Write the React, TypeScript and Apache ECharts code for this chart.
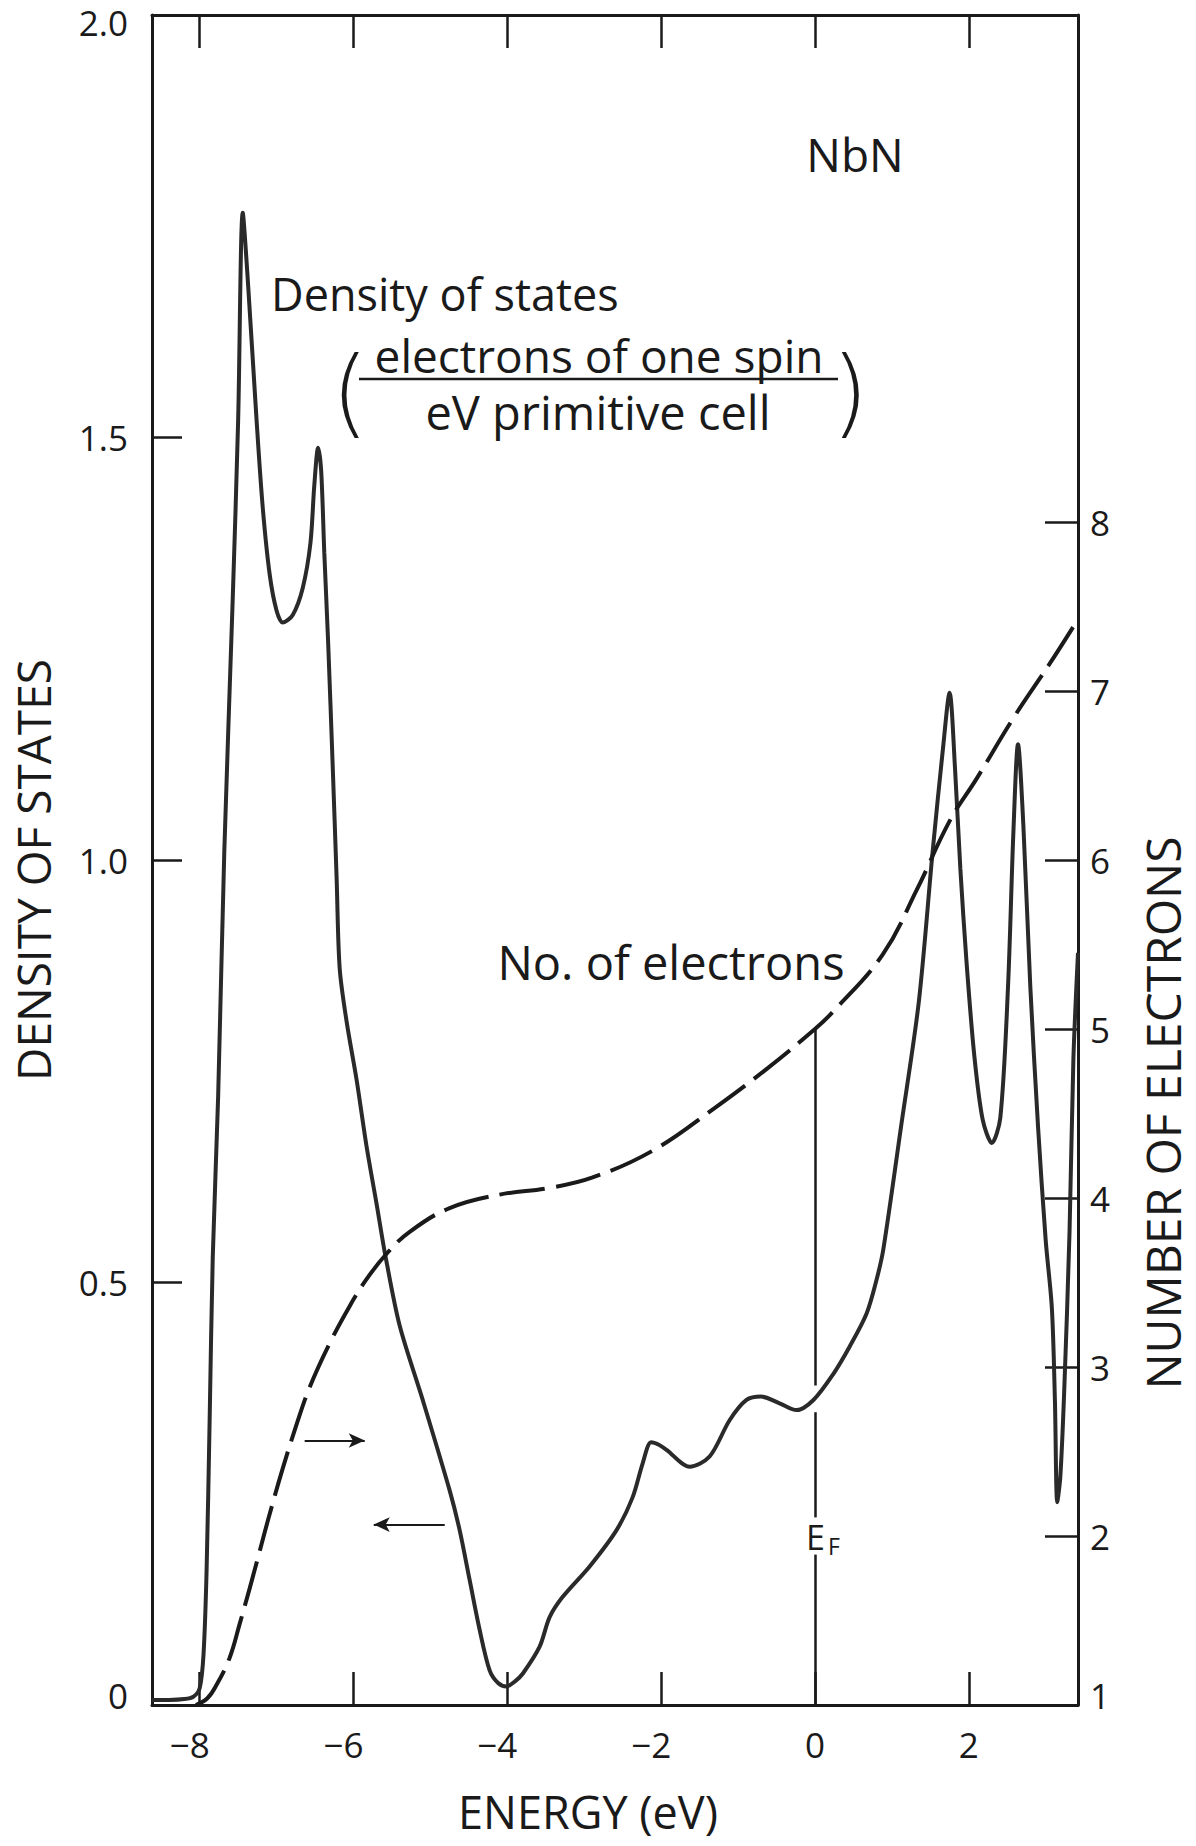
import React, { useEffect, useRef } from "react";
import * as echarts from "echarts";

// Energy (eV) and density of states (electrons of one spin / eV primitive cell)
const dosEnergy = [
  -8.62, -8.4, -8.2, -8.08, -8.0, -7.95, -7.91, -7.87, -7.83, -7.76, -7.68, -7.57, -7.5, -7.44,
  -7.37, -7.26, -7.18, -7.09, -7.0, -6.92, -6.79, -6.66, -6.56, -6.51, -6.46, -6.42, -6.38, -6.33,
  -6.27, -6.22, -6.18, -6.09, -5.96, -5.83, -5.7, -5.59, -5.4, -5.1, -4.75, -4.62, -4.49, -4.36,
  -4.23, -4.12, -4.01, -3.9, -3.8, -3.58, -3.45, -3.28, -2.93, -2.58, -2.37, -2.24, -2.13, -2.03,
  -1.93, -1.63, -1.37, -1.11, -0.89, -0.7, -0.46, -0.24, -0.02, 0.24, 0.45, 0.67, 0.8, 0.89, 1.12,
  1.35, 1.53, 1.67, 1.75, 1.82, 1.89, 1.97, 2.07, 2.18, 2.3, 2.41, 2.51, 2.58, 2.64, 2.71, 2.8, 2.9,
  3.0, 3.08, 3.12, 3.15, 3.19, 3.24, 3.31, 3.36, 3.42,
];
const dosValues = [
  0.006, 0.006, 0.007, 0.01, 0.02, 0.06, 0.16, 0.34, 0.53, 0.72, 1.01, 1.31, 1.52, 1.766,
  1.68, 1.52, 1.417, 1.338, 1.295, 1.281, 1.29, 1.322, 1.375, 1.443, 1.488, 1.46, 1.364, 1.258,
  1.11, 0.98, 0.872, 0.809, 0.74, 0.661, 0.593, 0.534, 0.449, 0.361, 0.254, 0.207, 0.148, 0.089,
  0.041, 0.026, 0.022, 0.028, 0.037, 0.069, 0.104, 0.128, 0.164, 0.207, 0.246, 0.286, 0.311, 0.308,
  0.302, 0.282, 0.294, 0.337, 0.361, 0.365, 0.357, 0.349, 0.361, 0.392, 0.424, 0.463, 0.503, 0.54, 0.685,
  0.832, 1.01, 1.137, 1.198, 1.11, 0.99, 0.88, 0.77, 0.693, 0.665, 0.695, 0.85, 1.033, 1.137, 1.04, 0.85, 0.685,
  0.55, 0.47, 0.36, 0.24, 0.27, 0.37, 0.56, 0.764, 0.89,
];

// Energy (eV) and number of electrons (right axis)
const electronEnergy = [
  -8.05, -7.9, -7.78, -7.61, -7.48, -7.35, -7.22, -7.09, -6.92, -6.74, -6.57, -6.31, -6.05, -5.83,
  -5.57, -5.27, -4.75, -4.1, -3.45, -2.9, -2.11, -1.31, -0.61, 0.0, 0.23, 0.88, 1.32, 1.75, 2.1,
  2.58, 3.05, 3.4,
];
const electronValues = [
  1.0, 1.04, 1.12, 1.28, 1.48, 1.69, 1.91, 2.13, 2.4, 2.66, 2.88, 3.14, 3.36, 3.52,
  3.67, 3.8, 3.94, 4.02, 4.06, 4.12, 4.28, 4.53, 4.77, 5.0, 5.1, 5.44, 5.82, 6.23, 6.48,
  6.84, 7.16, 7.41,
];

const energyTicks = [-8, -6, -4, -2, 0, 2];
const electronTicks = [1, 2, 3, 4, 5, 6, 7, 8];

// Fermi level and its value on the electron curve (in density-axis units)
const fermiEnergy = 0;
const fermiDosTop = 0.8;

const FONT = "'Open Sans', 'DejaVu Sans', sans-serif";
const INK = "#1a1a1a";

export default function App() {
  const ref = useRef<HTMLDivElement>(null);

  useEffect(() => {
    document.body.style.margin = "0";
    document.body.style.overflow = "hidden";
    if (!ref.current) return;
    const chart = echarts.init(ref.current, undefined, { renderer: "svg" });

    const dosData = dosEnergy.map((e, i) => [e, dosValues[i]]);
    const electronData = electronEnergy.map((e, i) => [e, electronValues[i]]);

    const axisLine = { show: true, onZero: false, lineStyle: { color: INK, width: 3 } };
    const tickStyle = { color: INK, width: 2.5 };
    const labelStyle = { fontSize: 35, fontFamily: FONT, color: INK };
    const tokenStyle = { fontSize: 35, fontFamily: FONT, color: INK };

    const option: any = {
      animation: false,
      backgroundColor: "#ffffff",
      grid: { left: 152, right: 118, top: 15, bottom: 141, containLabel: false },
      xAxis: [
        {
          type: "value",
          min: -8.62,
          max: 3.42,
          position: "bottom",
          axisLine,
          axisTick: { show: true, inside: true, length: 33, customValues: energyTicks, lineStyle: tickStyle },
          axisLabel: {
            ...labelStyle,
            customValues: energyTicks,
            margin: 22,
            formatter: (v: number) => (v < 0 ? `\u2212${Math.abs(v)}{s|}` : `${v}`),
            rich: { s: { width: 20 } },
          },
          splitLine: { show: false },
        },
        {
          type: "value",
          min: -8.62,
          max: 3.42,
          position: "top",
          axisLine,
          axisTick: { show: true, inside: true, length: 33, customValues: energyTicks, lineStyle: tickStyle },
          axisLabel: { show: false },
          splitLine: { show: false },
        },
      ],
      yAxis: [
        {
          type: "value",
          min: 0,
          max: 2,
          interval: 0.5,
          position: "left",
          axisLine,
          axisTick: { show: true, inside: true, length: 30, lineStyle: tickStyle },
          axisLabel: {
            ...labelStyle,
            margin: 24,
            formatter: (v: number) =>
              v === 0 ? "{b|0}" : v === 2 ? "{t|2.0}" : v.toFixed(1),
            rich: {
              t: { ...tokenStyle, padding: [14, 0, 0, 0] },
              b: { ...tokenStyle, padding: [0, 0, 20, 0] },
            },
          },
          splitLine: { show: false },
        },
        {
          type: "value",
          min: 1,
          max: 11,
          position: "right",
          axisLine,
          axisTick: { show: true, inside: true, length: 33, customValues: electronTicks, lineStyle: tickStyle },
          axisLabel: {
            ...labelStyle,
            customValues: electronTicks,
            margin: 12,
            formatter: (v: number) => (v === 1 ? "{b|1}" : `${v}`),
            rich: { b: { ...tokenStyle, padding: [0, 0, 20, 0] } },
          },
          splitLine: { show: false },
        },
      ],
      series: [
        {
          name: "Density of states",
          type: "line",
          xAxisIndex: 0,
          yAxisIndex: 0,
          data: dosData,
          showSymbol: false,
          smooth: 0.3,
          lineStyle: { color: "#2a2a2a", width: 4 },
          silent: true,
          markLine: {
            silent: true,
            animation: false,
            symbol: ["none", "none"],
            label: { show: false },
            lineStyle: { type: "solid", color: INK, width: 2.5 },
            data: [
              [{ coord: [fermiEnergy, fermiDosTop] }, { coord: [fermiEnergy, 0.378] }],
              [{ coord: [fermiEnergy, 0.3465] }, { coord: [fermiEnergy, 0.222] }],
              [{ coord: [fermiEnergy, 0.178] }, { coord: [fermiEnergy, 0] }],
              [
                { coord: [-6.635, 0.313], symbol: "none", lineStyle: { width: 2, type: "solid", color: INK } },
                { coord: [-5.854, 0.313], symbol: "arrow", symbolSize: [11, 16] },
              ],
              [
                { coord: [-4.814, 0.2135], symbol: "none", lineStyle: { width: 2, type: "solid", color: INK } },
                { coord: [-5.737, 0.2135], symbol: "arrow", symbolSize: [11, 16] },
              ],
            ],
          },
        },
        {
          name: "No. of electrons",
          type: "line",
          xAxisIndex: 0,
          yAxisIndex: 1,
          data: electronData,
          showSymbol: false,
          smooth: 0.4,
          lineStyle: { color: INK, width: 4, type: [46, 11] },
          silent: true,
        },
      ],
      graphic: [
        {
          type: "text",
          x: 33,
          y: 870,
          rotation: Math.PI / 2,
          z: 100,
          style: { text: "DENSITY OF STATES", fontSize: 46, lineHeight: 46, fontFamily: FONT, fill: INK, align: "center", verticalAlign: "middle" },
        },
        {
          type: "text",
          x: 1162,
          y: 1113,
          rotation: Math.PI / 2,
          z: 100,
          style: { text: "NUMBER OF ELECTRONS", fontSize: 48, lineHeight: 48, fontFamily: FONT, fill: INK, align: "center", verticalAlign: "middle" },
        },
        {
          type: "text",
          x: 588,
          y: 1811,
          z: 100,
          style: { text: "ENERGY (eV)", fontSize: 45, lineHeight: 45, fontFamily: FONT, fill: INK, align: "center", verticalAlign: "middle" },
        },
        {
          type: "text",
          x: 855,
          y: 154,
          z: 100,
          style: { text: "NbN", fontSize: 46, fontFamily: FONT, fill: INK, align: "center", verticalAlign: "middle" },
        },
        {
          type: "text",
          x: 271,
          y: 293,
          z: 100,
          style: { text: "Density of states", fontSize: 45, fontFamily: FONT, fill: INK, align: "left", verticalAlign: "middle" },
        },
        {
          type: "text",
          x: 599,
          y: 355,
          z: 100,
          style: { text: "electrons of one spin", fontSize: 46, fontFamily: FONT, fill: INK, align: "center", verticalAlign: "middle" },
        },
        {
          type: "line",
          z: 100,
          shape: { x1: 359, y1: 379, x2: 838, y2: 379 },
          style: { stroke: INK, lineWidth: 2.5 },
        },
        {
          type: "text",
          x: 598,
          y: 412,
          z: 100,
          style: { text: "eV primitive cell", fontSize: 47, fontFamily: FONT, fill: INK, align: "center", verticalAlign: "middle" },
        },
        {
          type: "text",
          x: 350,
          y: 392,
          z: 100,
          style: { text: "(", fontSize: 96, fontWeight: 200, fontFamily: "'DejaVu Sans', sans-serif", fill: INK, align: "center", verticalAlign: "middle" },
        },
        {
          type: "text",
          x: 850,
          y: 392,
          z: 100,
          style: { text: ")", fontSize: 96, fontWeight: 200, fontFamily: "'DejaVu Sans', sans-serif", fill: INK, align: "center", verticalAlign: "middle" },
        },
        {
          type: "text",
          x: 671,
          y: 962,
          z: 100,
          style: { text: "No. of electrons", fontSize: 47, fontFamily: FONT, fill: INK, align: "center", verticalAlign: "middle" },
        },
        {
          type: "text",
          x: 806,
          y: 1537,
          z: 100,
          style: {
            text: "{e|E}{f|F}",
            align: "left",
            verticalAlign: "middle",
            rich: {
              e: { fontSize: 34, fontFamily: FONT, fill: INK, lineHeight: 40 },
              f: { fontSize: 23, fontFamily: FONT, fill: INK, lineHeight: 24, verticalAlign: "bottom", padding: [0, 0, 0, 3] },
            },
          },
        },
      ],
    };

    chart.setOption(option);
    return () => chart.dispose();
  }, []);

  return <div ref={ref} style={{ width: 1196, height: 1846 }} />;
}
